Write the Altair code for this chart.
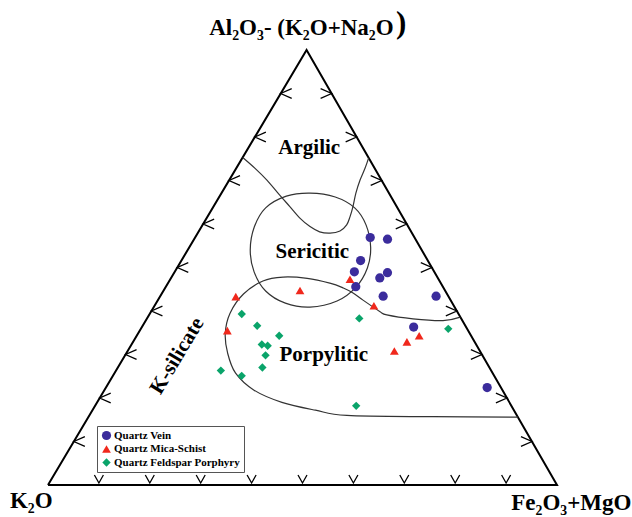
import altair as alt
import pandas as pd

# ---------------- data (ternary percentages) ----------------
# A = Al2O3-(K2O+Na2O) (apex), F = Fe2O3+MgO (right), K2O = 100 - A - F (left)
series_names = ["Quartz Vein", "Quartz Mica-Schist", "Quartz Feldspar Porphyry"]
series_colors = ["#3b2c9c", "#f0281c", "#0aa46a"]
series_shapes = ["circle", "triangle-up", "diamond"]

vein_A = [56.9, 56.5, 51.6, 49.0, 48.8, 47.6, 45.6, 43.4, 43.4, 36.3, 22.4]
vein_F = [34.4, 38.0, 35.2, 35.3, 41.9, 41.0, 37.3, 43.8, 54.2, 53.4, 74.9]

mica_A = [43.3, 44.7, 35.5, 47.3, 41.2, 34.3, 32.9, 30.8]
mica_F = [14.9, 26.8, 17.2, 35.3, 43.1, 55.5, 53.8, 52.4]

qfp_A = [39.3, 36.6, 34.3, 32.3, 32.0, 29.8, 27.0, 26.3, 25.1, 38.3, 35.9, 18.2]
qfp_F = [18.1, 22.5, 28.0, 25.6, 26.9, 27.6, 28.4, 20.6, 25.3, 41.7, 60.4, 51.3]

# field boundaries
argilic_A = [75.3, 72.8, 70.1, 67.1, 64.0, 61.3, 59.4, 58.2, 57.9, 58.4, 59.8, 61.7, 64.0, 67.1, 70.1, 72.8, 75.2]
argilic_F = [0.0, 3.7, 7.4, 11.1, 15.0, 18.4, 21.3, 23.8, 26.0, 27.7, 28.3, 28.0, 27.4, 26.4, 25.7, 25.3, 24.8]

sericitic_A = [67.1, 66.2, 63.7, 59.8, 54.7, 49.9, 45.5, 42.3, 40.9, 41.8, 44.6, 49.0, 54.0, 59.3, 63.7, 66.4]
sericitic_F = [17.4, 22.8, 27.9, 32.1, 35.6, 37.4, 37.4, 35.3, 30.7, 25.4, 20.1, 15.6, 12.3, 10.4, 10.4, 13.1]

porpylitic_A = [38.6, 37.8, 38.2, 39.1, 39.9, 42.5, 44.2, 45.3, 46.4, 47.5, 47.8, 46.9, 43.9, 39.5, 34.9,
                30.3, 25.7, 21.8, 19.0, 17.2, 16.0, 15.7, 15.6]
porpylitic_F = [61.4, 58.4, 52.3, 46.7, 44.9, 40.3, 37.4, 35.0, 31.8, 26.8, 21.9, 18.4, 16.1, 15.7, 17.1,
                19.9, 23.8, 29.4, 36.3, 43.8, 50.6, 67.6, 84.4]

# triangle frame vertices (K2O, Fe2O3+MgO, apex, back)
frame_A = [0, 0, 100, 0]
frame_F = [0, 100, 0, 0]

tick_values = [10, 20, 30, 40, 50, 60, 70, 80, 90]

region_names = ["Argilic", "Sericitic", "Porpylitic"]
region_A = [77.4, 53.6, 29.9]
region_F = [12.0, 24.7, 39.0]

ksil_name = ["K-silicate"]
ksil_A = [29.7]
ksil_F = [10.3]

title_text = ["Al\u2082O\u2083- (K\u2082O+Na\u2082O"]
title_A = [105.1]
title_F = [-3.6]
paren_text = [")"]
paren_A = [105.9]
paren_F = [15.6]

corner_names = ["K\u2082O", "Fe\u2082O\u2083+MgO"]
corner_A = [-3.7, -4.1]
corner_F = [-1.4, 104.9]

SKEW = 0.508  # horizontal position of apex along the base (fraction)


def tern(A, F, **extra):
    df = pd.DataFrame({"A": A, "F": F})
    df["i"] = range(len(df))
    for k, v in extra.items():
        df[k] = v
    return df


FONT = "Liberation Serif"
xs = alt.Scale(domain=[0, 100], nice=False, zero=False)
ys = alt.Scale(domain=[0, 100], nice=False, zero=False)
X = alt.X("x:Q", scale=xs, axis=None)
Y = alt.Y("y:Q", scale=ys, axis=None)


def base(df):
    return alt.Chart(df).transform_calculate(
        x=f"datum.F + {SKEW} * datum.A", y="datum.A"
    )


frame = base(tern(frame_A, frame_F)).mark_line(
    color="black", strokeWidth=2, strokeJoin="miter"
).encode(x=X, y=Y, order="i:Q")

tick_bottom = base(tern([0] * 9, tick_values)).mark_point(
    shape="M -0.45 -1 L 0 -0.2 L 0.45 -1", filled=False, color="black",
    strokeWidth=1.3, size=400, opacity=1
).encode(x=X, y=Y)

tick_left = base(tern(tick_values, [0] * 9)).mark_point(
    shape="M 1 -0.45 L 0 0 L 1 0.45", filled=False, color="black",
    strokeWidth=1.3, size=484, opacity=1
).encode(x=X, y=Y)

tick_right = base(tern(tick_values, [100 - t for t in tick_values])).mark_point(
    shape="M -1 -0.45 L 0 0 L -1 0.45", filled=False, color="black",
    strokeWidth=1.3, size=484, opacity=1
).encode(x=X, y=Y)

argilic = base(tern(argilic_A, argilic_F)).mark_line(
    color="#333333", strokeWidth=1.2, interpolate="cardinal"
).encode(x=X, y=Y, order="i:Q")

sericitic = base(tern(sericitic_A, sericitic_F)).mark_line(
    color="#333333", strokeWidth=1.2, interpolate="cardinal-closed"
).encode(x=X, y=Y, order="i:Q")

porpylitic = base(tern(porpylitic_A, porpylitic_F)).mark_line(
    color="#333333", strokeWidth=1.2, interpolate="cardinal"
).encode(x=X, y=Y, order="i:Q")

pts = pd.concat([
    tern(vein_A, vein_F, series=series_names[0]),
    tern(mica_A, mica_F, series=series_names[1]),
    tern(qfp_A, qfp_F, series=series_names[2]),
], ignore_index=True)

legend = alt.Legend(
    title=None, orient="none", legendX=49, legendY=376,
    labelFont=FONT, labelFontWeight="bold", labelFontSize=11, labelColor="black",
    symbolSize=45, symbolStrokeWidth=0, labelOffset=2, rowPadding=1.5,
    padding=4, strokeColor="#555555", fillColor="white", labelLimit=300,
)

points = base(pts).mark_point(filled=True, opacity=1, strokeWidth=0).encode(
    x=X, y=Y,
    color=alt.Color("series:N", scale=alt.Scale(domain=series_names, range=series_colors), legend=legend),
    shape=alt.Shape("series:N", scale=alt.Scale(domain=series_names, range=series_shapes), legend=legend),
    size=alt.Size("series:N", scale=alt.Scale(domain=series_names, range=[85, 70, 75]), legend=None),
)

regions = base(tern(region_A, region_F, label=region_names)).mark_text(
    font=FONT, fontWeight="bold", fontSize=21, color="black", baseline="middle"
).encode(x=X, y=Y, text="label:N")

ksil = base(tern(ksil_A, ksil_F, label=ksil_name)).mark_text(
    font=FONT, fontWeight="bold", fontSize=21, color="black", baseline="middle", angle=301
).encode(x=X, y=Y, text="label:N")

title = base(tern(title_A, title_F, label=title_text)).mark_text(
    font=FONT, fontWeight="bold", fontSize=23, color="black", baseline="middle"
).encode(x=X, y=Y, text="label:N")

paren = base(tern(paren_A, paren_F, label=paren_text)).mark_text(
    font=FONT, fontWeight="bold", fontSize=31, color="black", baseline="middle"
).encode(x=X, y=Y, text="label:N")

corners = base(tern(corner_A, corner_F, label=corner_names)).mark_text(
    font=FONT, fontWeight="bold", fontSize=23, color="black", baseline="middle"
).encode(x=X, y=Y, text="label:N")

chart = alt.layer(
    frame, tick_bottom, tick_left, tick_right,
    argilic, sericitic, porpylitic,
    points, regions, ksil, title, paren, corners,
).properties(
    width=509, height=435,
    autosize=alt.AutoSizeParams(type="none"),
    padding={"left": 48, "top": 50, "right": 75, "bottom": 32},
    background="white",
).configure_view(stroke=None)

chart.save("out.html", embed_options={"renderer": "svg", "actions": False})
